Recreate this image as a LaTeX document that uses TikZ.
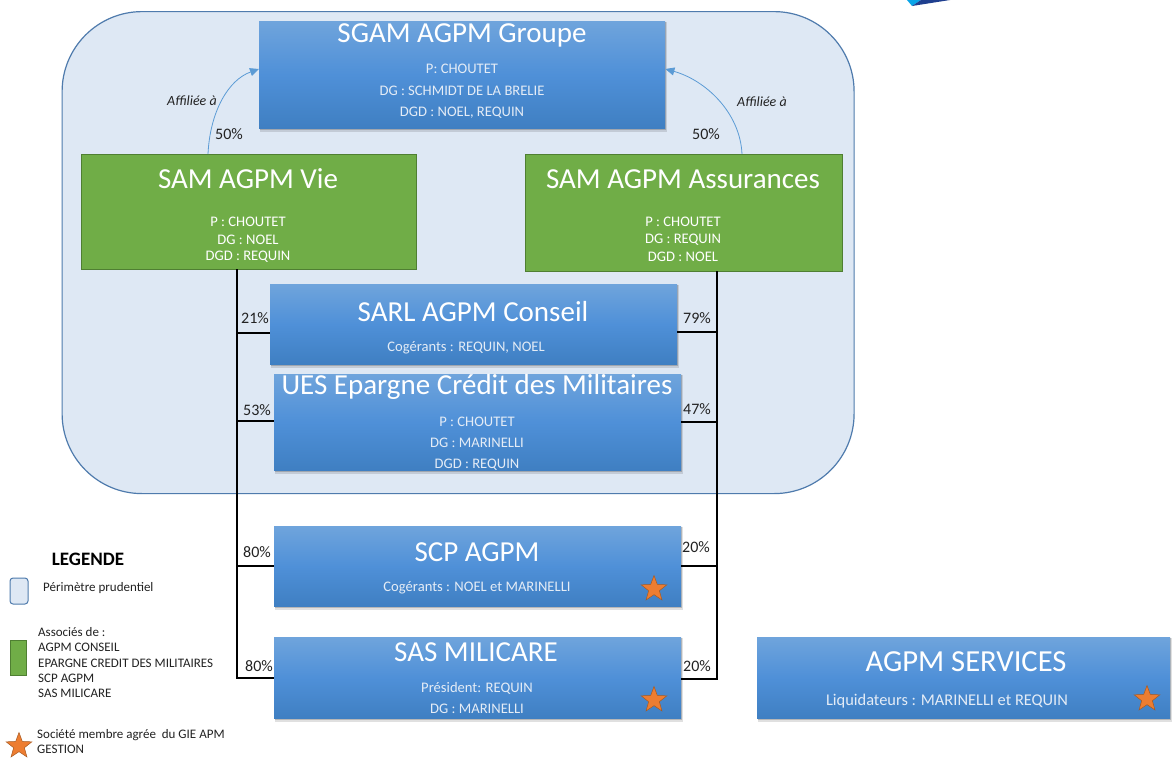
\documentclass[tikz,border=0pt]{standalone}
\usepackage{fontspec}
\setmainfont{Carlito}
\usetikzlibrary{shapes.geometric,arrows.meta}
\definecolor{permfill}{HTML}{DEE8F4}
\definecolor{permline}{HTML}{4F7BAD}
\definecolor{bluetop}{HTML}{6FA4DC}
\definecolor{bluemid}{HTML}{4F90D8}
\definecolor{bluebot}{HTML}{3F7FC2}
\definecolor{greenfill}{HTML}{70AD47}
\definecolor{greenline}{HTML}{4F7F32}
\definecolor{starfill}{HTML}{ED7D31}
\definecolor{starline}{HTML}{A85A20}
\definecolor{txtdark}{HTML}{222222}
\definecolor{subtxt}{HTML}{E4ECF6}
\definecolor{arrowblue}{HTML}{5B9BD5}
\definecolor{logoa}{HTML}{0AA5E8}
\definecolor{logob}{HTML}{1F3F8F}
\tikzset{
  x=1pt,y=-1pt,
  bluebox/.style={rectangle,inner sep=0pt,top color=bluetop,bottom color=bluebot,middle color=bluemid},
  greenbox/.style={rectangle,inner sep=0pt,fill=greenfill,draw=greenline,line width=1pt},
  title/.style={text=white,font=\fontsize{29}{29}\selectfont,inner sep=0pt},
  titlebig/.style={text=white,font=\fontsize{30.6}{30.6}\selectfont,inner sep=0pt},
  subt/.style={text=subtxt,font=\fontsize{14.6}{14.6}\selectfont,inner sep=0pt},
  subbig/.style={text=subtxt,font=\fontsize{16.4}{16.4}\selectfont,inner sep=0pt},
  subg/.style={text=white,font=\fontsize{14.6}{14.6}\selectfont,inner sep=0pt},
  lbl/.style={text=txtdark,font=\fontsize{16}{16}\selectfont,inner sep=0pt},
  ital/.style={text=txtdark,font=\fontsize{14}{14}\selectfont\itshape,inner sep=0pt},
  leg/.style={text=txtdark,font=\fontsize{13}{15.4}\selectfont,inner sep=0pt,anchor=north west,align=left},
  staro/.style={star,star points=5,star point ratio=2.4,minimum size=27pt,inner sep=0pt,fill=starfill,draw=starline,line width=.5pt},
  link/.style={draw=black,line width=1.3pt},
  affil/.style={draw=arrowblue,line width=.8pt,-{Triangle[length=9pt,width=8pt]}}
}
\newcommand{\boxat}[5]{%
  \fill[black,opacity=.12] (#2+1,#3+1) rectangle (#4+2,#5+4);
  \fill[black,opacity=.18] (#2+1,#3+1) rectangle (#4+1,#5+2);
  \node[bluebox,anchor=north west,minimum width=#4 pt-#2 pt,minimum height=#5 pt-#3 pt] (#1) at (#2,#3) {};
}
\newcommand{\greenat}[5]{%
  \node[greenbox,anchor=north west,minimum width=#4 pt-#2 pt,minimum height=#5 pt-#3 pt] (#1) at (#2,#3) {};
}
\begin{document}
\begin{tikzpicture}
\useasboundingbox (0,0) rectangle (1175,758);
\fill[white] (0,0) rectangle (1175,758);
% logo fragment
\fill[logoa] (907,0) -- (921,0) -- (912,6) -- cycle;
\fill[logob] (912,6) -- (921,0) -- (950,0) -- cycle;
% perimeter
\node[rectangle,anchor=north west,minimum width=792pt,minimum height=482pt,rounded corners=80pt,fill=permfill,draw=permline,line width=1.2pt] (perim) at (61.5,11) {};
% boxes
\boxat{sgam}{259}{21}{665}{128}
\greenat{vie}{81}{154}{416}{269}
\greenat{ass}{525}{154}{842}{271}
\boxat{sarl}{270}{284}{677}{364}
\boxat{ues}{274}{374}{681}{470}
\boxat{scp}{274}{526}{681}{606}
\boxat{sas}{274}{637}{681}{718}
\boxat{serv}{757}{637}{1170}{718}
% connectors
\coordinate (lt) at (237,269); \coordinate (rt) at (717,271);
\coordinate (l1) at (237,333); \coordinate (l2) at (237,421); \coordinate (l3) at (237,566); \coordinate (l4) at (237,678);
\coordinate (r1) at (717,332); \coordinate (r2) at (717,422); \coordinate (r3) at (717,566); \coordinate (r4) at (717,679);
\draw[link] (lt) -- (l4) -- (sas.west |- l4);
\draw[link] (rt) -- (r4) -- (sas.east |- r4);
\draw[link] (l1) -- (sarl.west |- l1);
\draw[link] (l2) -- (ues.west |- l2);
\draw[link] (l3) -- (scp.west |- l3);
\draw[link] (r1) -- (sarl.east |- r1);
\draw[link] (r2) -- (ues.east |- r2);
\draw[link] (r3) -- (scp.east |- r3);
\coordinate (al) at (208,154); \coordinate (ar) at (742,154);
\draw[affil] (al) .. controls (210,112) and (228,80) .. (sgam.west |- 0,69);
\draw[affil] (ar) .. controls (740,112) and (705,80) .. (sgam.east |- 0,69);
% titles
\node[title] at (462,35) {SGAM AGPM Groupe};
\node[title] at (248,179) {SAM AGPM Vie};
\node[title] at (683,179) {SAM AGPM Assurances};
\node[title] at (473,312) {SARL AGPM Conseil};
\node[title] at (477,387) {UES Epargne Crédit des Militaires};
\node[title] at (477,552) {SCP AGPM};
\node[title] at (476,652) {SAS MILICARE};
\node[titlebig] at (966,662) {AGPM SERVICES};
% sub lines
\node[subt] at (462,69) {P: CHOUTET};
\node[subt] at (462,91) {DG : SCHMIDT DE LA BRELIE};
\node[subt] at (462,113) {DGD : NOEL, REQUIN};
\node[subg] at (248,222) {P : CHOUTET};
\node[subg] at (248,240) {DG : NOEL};
\node[subg] at (248,257) {DGD : REQUIN};
\node[subg] at (683,222) {P : CHOUTET};
\node[subg] at (683,240) {DG : REQUIN};
\node[subg] at (683,257) {DGD : NOEL};
\node[subt] at (466,348) {Cogérants : REQUIN, NOEL};
\node[subt] at (477,422) {P : CHOUTET};
\node[subt] at (477,443) {DG : MARINELLI};
\node[subt] at (477,465) {DGD : REQUIN};
\node[subt] at (477,588) {Cogérants : NOEL et MARINELLI};
\node[subt] at (477,688) {Président: REQUIN};
\node[subt] at (477,709) {DG : MARINELLI};
\node[subbig] at (947,701) {Liquidateurs : MARINELLI et REQUIN};
% stars
\node[staro] (s1) at (654,589) {};
\node[staro] (s2) at (654,700) {};
\node[staro] (s3) at (1147,699) {};
% percentages
\node[lbl] at (229,134) {50\%};
\node[lbl] at (706,134) {50\%};
\node[lbl] at (255,318) {21\%};
\node[lbl] at (697,318) {79\%};
\node[lbl] at (257,410) {53\%};
\node[lbl] at (697,409) {47\%};
\node[lbl] at (257,552) {80\%};
\node[lbl] at (696,547) {20\%};
\node[lbl] at (259,666) {80\%};
\node[lbl] at (697,666) {20\%};
\node[ital] at (192,101) {Affiliée à};
\node[ital] at (762,102) {Affiliée à};
% legend
\node[text=black,font=\fontsize{19}{19}\selectfont\bfseries,inner sep=0pt] at (88,559) {LEGENDE};
\node[rectangle,rounded corners=3pt,fill=permfill,draw=permline,line width=1pt,minimum width=18pt,minimum height=26pt,inner sep=0pt] (lg1) at (19,591) {};
\node[leg] at (43,582) {Périmètre prudentiel};
\node[rectangle,fill=greenfill,draw=greenline,line width=.8pt,minimum width=16pt,minimum height=35pt,inner sep=0pt] (lg2) at (18,658) {};
\node[leg] at (38,627) {Associés de :\\AGPM CONSEIL\\EPARGNE CREDIT DES MILITAIRES\\SCP AGPM\\SAS MILICARE};
\node[staro] (lg3) at (19,746) {};
\node[leg] at (37,729) {Société membre agrée\ \ du GIE APM\\GESTION};
\end{tikzpicture}
\end{document}
